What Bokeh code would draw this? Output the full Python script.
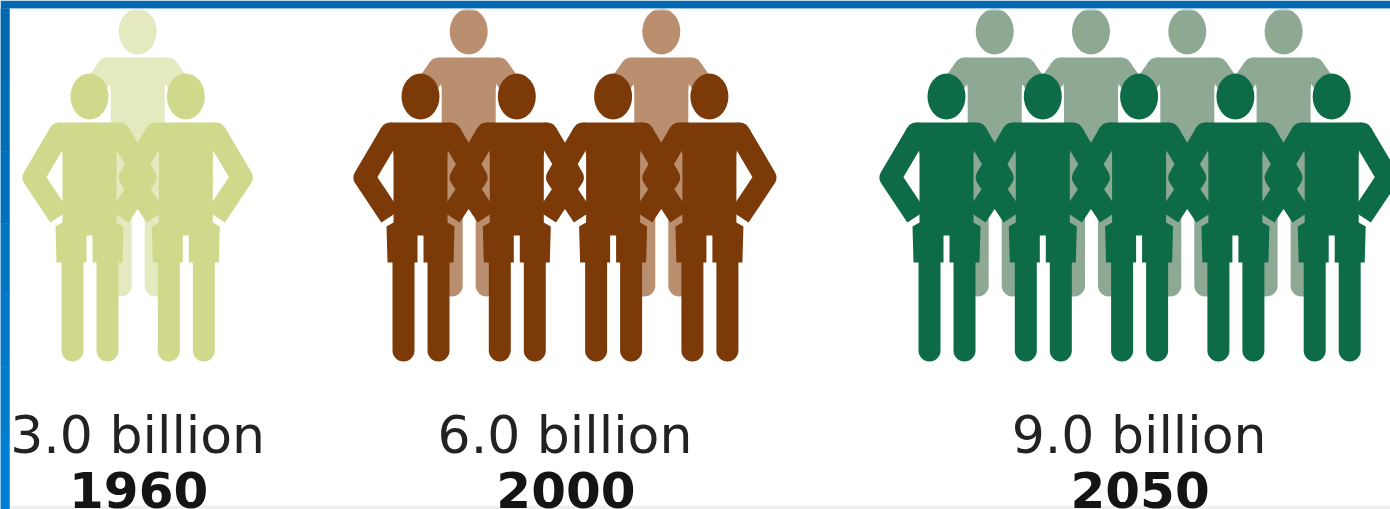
from bokeh.core.properties import value
from bokeh.embed import file_html
from bokeh.models import Range1d
from bokeh.plotting import figure
from bokeh.resources import INLINE

# Population in billions; one figure stands for one billion people
years = ["1960", "2000", "2050"]
billions = [3.0, 6.0, 9.0]
front_counts = [2, 4, 5]
front_colors = ["#D0D98B", "#7B3A08", "#0D6B47"]
back_colors = ["#E5E9BF", "#B98F70", "#8DA893"]

# Horizontal layout of each group of figures
first_front_x = [89, 420, 946]
back_spacing = [1, 2, 1]
STEP = 96.3
BACK_DX = 48.2
BACK_DY = -65

W, H = 1390, 509
p = figure(width=W, height=H, output_backend="svg", toolbar_location=None,
           x_range=Range1d(0, W), y_range=Range1d(H, 0), min_border=0,
           outline_line_color=None, background_fill_color="#FFFFFF",
           border_fill_color="#FFFFFF")
p.xaxis.visible = False
p.yaxis.visible = False
p.grid.visible = False

# Faint grey strip along the bottom edge, behind the year labels
p.quad(left=[9], right=[W], top=[505], bottom=[509], fill_color="#E8E8E8", line_color=None,
       fill_alpha=0.7)


def draw_person(cx, dy, color, bent_arms):
    """One standing figure: head, torso and shorts, arms, two legs."""
    p.ellipse(x=[cx], y=[96 + dy], width=38, height=46,
              fill_color=color, line_color=None)
    # torso with flat shoulders, widening into the shorts, split at the crotch
    xs = [-30, 30, 27, 27, 34, 33, 3, 3, -3, -3, -33, -34, -27, -27]
    ys = [122, 122, 155, 222, 226, 262, 262, 235, 235, 262, 262, 226, 222, 155]
    p.patch([cx + v for v in xs], [v + dy for v in ys],
            fill_color=color, line_color=None)
    # legs with rounded feet
    p.multi_line([[cx - 17, cx - 17], [cx + 18, cx + 18]],
                 [[255 + dy, 350 + dy], [255 + dy, 350 + dy]],
                 line_color=color, line_width=22, line_cap="round")
    # rounded shoulders
    p.ellipse(x=[cx - 30, cx + 30], y=[133 + dy, 133 + dy], width=22, height=22,
              fill_color=color, line_color=None)
    if bent_arms:
        # hands resting on the hips
        p.multi_line([[cx - 30, cx - 56, cx - 30], [cx + 30, cx + 56, cx + 30]],
                     [[133 + dy, 177 + dy, 216 + dy], [133 + dy, 177 + dy, 216 + dy]],
                     line_color=color, line_width=22, line_cap="butt", line_join="round")
    else:
        # the rear row only shows the start of each arm above the front row
        p.multi_line([[cx - 30, cx - 42], [cx + 30, cx + 42]],
                     [[133 + dy, 150 + dy], [133 + dy, 150 + dy]],
                     line_color=color, line_width=22, line_cap="butt")


for total, front, x0, gap, fc, bc, year in zip(billions, front_counts, first_front_x,
                                               back_spacing, front_colors, back_colors, years):
    fronts = [x0 + i * STEP for i in range(front)]
    backs = [x0 + BACK_DX + i * gap * STEP for i in range(int(total) - front)]
    for cx in backs:
        draw_person(cx, BACK_DY, bc, False)
    for cx in fronts:
        draw_person(cx, 0, fc, True)
    centre = sum(fronts) / len(fronts)
    p.text(x=[centre], y=[434], text=[f"{total:.1f} billion"],
           text_font=value("DejaVu Sans"), text_font_size="52px",
           text_align="center", text_baseline="middle", text_color="#222222")
    p.text(x=[centre + 1], y=[489], text=[year],
           text_font=value("DejaVu Sans"), text_font_style="bold", text_font_size="50px",
           text_align="center", text_baseline="middle", text_color="#141414")

# Frame: blue band along the top and a left band that brightens towards the bottom
p.quad(left=[0], right=[W], top=[0], bottom=[8], fill_color="#0068B0", line_color=None)
p.quad(left=[9], right=[W], top=[8], bottom=[10], fill_color="#F2F2F2", line_color=None,
       fill_alpha=0.6)
band_colors = ["#0068B0", "#006CB6", "#0070BC", "#0074C2", "#0078C8", "#007CCE", "#0080D4"]
band_h = (H - 8) / len(band_colors)
p.quad(left=[0] * len(band_colors), right=[9] * len(band_colors),
       top=[8 + i * band_h for i in range(len(band_colors))],
       bottom=[8 + (i + 1) * band_h for i in range(len(band_colors))],
       fill_color=band_colors, line_color=band_colors, line_width=0.5)

open("out.html", "w").write(file_html(p, INLINE))
